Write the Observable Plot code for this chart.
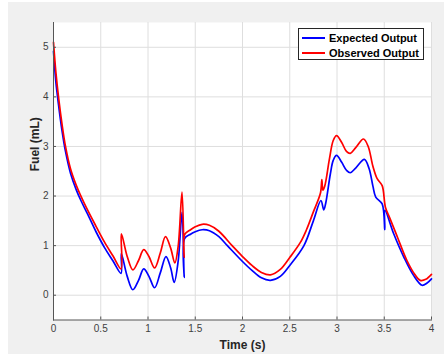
<!DOCTYPE html>
<html><head><meta charset="utf-8">
<script src="https://cdn.jsdelivr.net/npm/d3@7"></script>
<script src="https://cdn.jsdelivr.net/npm/@observablehq/plot@0.6"></script>
<style>
html,body{margin:0;padding:0;background:#fff;}
#fig{position:absolute;left:8px;top:2px;width:436px;height:352px;background:#f0f0f0;overflow:hidden;}
#fig svg{position:absolute;left:0;top:0;}
#legend{position:absolute;left:290px;top:26px;width:126px;height:32px;background:#fff;border:1px solid #262626;box-sizing:border-box;font:bold 11px "Liberation Sans",Arial,sans-serif;color:#000;}
.row{position:absolute;left:0;height:14px;width:124px;}
.row .sw{position:absolute;left:3px;top:6px;width:23px;height:2px;}
.row .lb{position:absolute;left:30px;top:0;line-height:14px;white-space:nowrap;}
</style>
</head><body>
<div id="fig"></div>
<script>
// Expected Output (blue)
const tExpected = [0,0.025,0.056,0.09,0.127,0.18,0.24,0.29,0.36,0.45,0.54,0.63,0.715,
  0.718,0.78,0.84,0.90,0.955,1.01,1.07,1.13,1.19,1.24,1.277,1.32,1.36,1.383,1.387,
  1.45,1.50,1.573,1.65,1.75,1.84,2.0,2.1,2.2,2.296,2.4,2.5,2.65,2.75,2.83,2.86,2.88,
  2.93,2.96,2.995,3.05,3.1,3.14,3.2,3.29,3.34,3.38,3.41,3.478,3.506,3.508,3.6,3.707,
  3.81,3.90,3.95,4.0];
const vExpected = [4.92,4.3,3.8,3.32,2.9,2.46,2.13,1.91,1.64,1.28,0.96,0.69,0.44,
  0.84,0.38,0.11,0.30,0.53,0.38,0.15,0.45,0.78,0.55,0.26,0.70,1.67,0.36,1.14,
  1.23,1.28,1.32,1.30,1.18,1.0,0.68,0.50,0.35,0.30,0.38,0.60,1.0,1.5,1.91,1.72,1.85,
  2.45,2.72,2.82,2.68,2.52,2.47,2.57,2.74,2.55,2.2,1.98,1.84,1.32,1.71,1.24,0.77,
  0.40,0.20,0.24,0.33];
// Observed Output (red)
const tObserved = [0,0.025,0.056,0.09,0.127,0.18,0.24,0.29,0.36,0.45,0.54,0.63,0.715,
  0.718,0.78,0.84,0.90,0.955,1.01,1.07,1.13,1.185,1.24,1.284,1.32,1.36,1.383,1.387,
  1.45,1.50,1.573,1.65,1.75,1.89,2.0,2.1,2.2,2.296,2.4,2.5,2.614,2.677,2.75,2.825,2.84,
  2.85,2.87,2.92,2.96,2.995,3.05,3.1,3.14,3.2,3.28,3.33,3.38,3.425,3.478,3.513,3.56,
  3.64,3.74,3.83,3.88,3.94,4.0];
const vObserved = [5.1,4.5,3.95,3.45,3.0,2.55,2.22,2.0,1.72,1.39,1.07,0.79,0.53,
  1.24,0.78,0.51,0.70,0.92,0.78,0.55,0.85,1.18,0.95,0.65,1.0,2.08,0.76,1.22,
  1.32,1.38,1.43,1.41,1.29,1.0,0.78,0.60,0.46,0.41,0.52,0.76,1.07,1.32,1.68,2.06,2.33,
  2.12,2.2,2.75,3.12,3.22,3.08,2.9,2.86,2.98,3.15,3.0,2.6,2.35,2.21,1.77,1.55,
  1.17,0.70,0.40,0.30,0.32,0.42];
const xTicks = [0,0.5,1,1.5,2,2.5,3,3.5,4];
const xTickLabels = ["0","0.5","1","1.5","2","2.5","3","3.5","4"];
const yTicks = [0,1,2,3,4,5];
const yTickLabels = ["0","1","2","3","4","5"];
const seriesNames = ["Expected Output","Observed Output"];
const seriesColors = ["#0000ff","#ff0000"];

const expected = tExpected.map((t,i)=>({t, v:vExpected[i]}));
const observed = tObserved.map((t,i)=>({t, v:vObserved[i]}));

const font = '"Liberation Sans", Arial, sans-serif';
const chart = Plot.plot({
  width: 436, height: 352,
  marginLeft: 45, marginRight: 13, marginTop: 20, marginBottom: 34.5,
  style: {background: "transparent", fontFamily: font, fontSize: "10px", color: "#404040"},
  x: {domain: [0,4], label: null},
  y: {domain: [-0.5,5.5], label: null},
  marks: [
    Plot.frame({fill: "white", stroke: null}),
    Plot.gridX(xTicks, {stroke: "#dedede", strokeOpacity: 1}),
    Plot.gridY(yTicks, {stroke: "#dedede", strokeOpacity: 1}),
    Plot.line(expected, {x: "t", y: "v", stroke: seriesColors[0], strokeWidth: 1.7, curve: "catmull-rom"}),
    Plot.line(observed, {x: "t", y: "v", stroke: seriesColors[1], strokeWidth: 1.7, curve: "catmull-rom"}),
    Plot.axisX(xTicks, {tickSize: 0, tickPadding: 5, tickFormat: (d,i)=>xTickLabels[i], label: null, fill: "#404040"}),
    Plot.axisY(yTicks, {tickSize: 0, tickPadding: 5, tickFormat: (d,i)=>yTickLabels[i], label: null, fill: "#404040"}),
    Plot.axisX(xTicks, {text: null, tickSize: -3, stroke: "#555", label: null}),
    Plot.axisY(yTicks, {text: null, tickSize: -3, stroke: "#555", label: null}),
    Plot.frame({anchor: "bottom", stroke: "#555"}),
    Plot.frame({anchor: "left", stroke: "#555"}),
    Plot.text(["Time (s)"], {frameAnchor: "bottom", dy: 25, fontWeight: "bold", fontSize: 12, fill: "#262626", lineAnchor: "middle"}),
    Plot.text(["Fuel (mL)"], {frameAnchor: "left", dx: -18, rotate: -90, fontWeight: "bold", fontSize: 12, fill: "#262626"})
  ]
});
const fig = document.getElementById("fig");
fig.appendChild(chart);
const leg = document.createElement("div");
leg.id = "legend";
seriesNames.forEach((name,i)=>{
  const r = document.createElement("div");
  r.className = "row";
  r.style.top = (2 + i*15) + "px";
  const sw = document.createElement("div"); sw.className = "sw"; sw.style.background = seriesColors[i];
  const lb = document.createElement("div"); lb.className = "lb"; lb.textContent = name;
  r.appendChild(sw); r.appendChild(lb); leg.appendChild(r);
});
fig.appendChild(leg);
</script>
</body></html>
